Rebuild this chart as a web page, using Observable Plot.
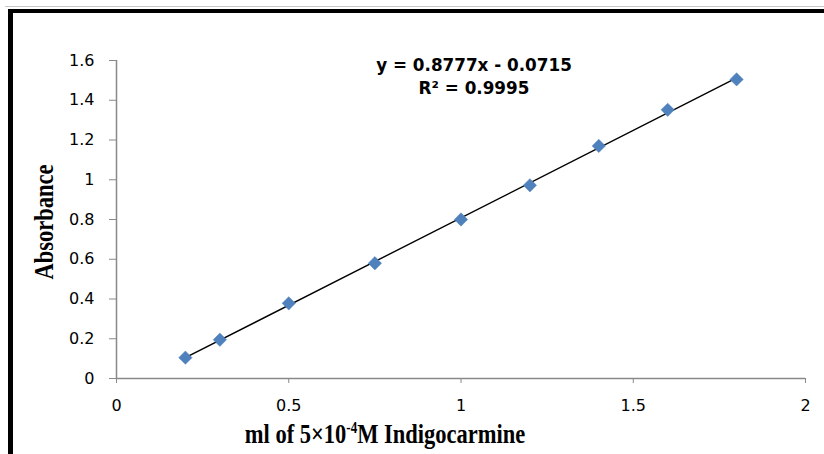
<!DOCTYPE html>
<html>
<head>
<meta charset="utf-8">
<script src="https://cdn.jsdelivr.net/npm/d3@7"></script>
<script src="https://cdn.jsdelivr.net/npm/@observablehq/plot@0.6"></script>
<style>
  html, body { margin: 0; padding: 0; background: #fff; overflow: hidden; }
  #wrap { position: relative; width: 824px; height: 454px; overflow: hidden; }
  #grayline { position: absolute; left: 5px; top: 6px; width: 830px; height: 1px; background: #c8c8c8; }
  #border { position: absolute; left: 8px; top: 9px; width: 900px; height: 900px;
            border-top: 4px solid #000; border-left: 5px solid #000; box-sizing: border-box; }
  #chart { position: absolute; left: 0; top: 0; }
</style>
</head>
<body>
<div id="wrap">
  <div id="grayline"></div>
  <div id="border"></div>
  <div id="chart"></div>
</div>
<script>
// Data
const volumes = [0.2, 0.3, 0.5, 0.75, 1.0, 1.2, 1.4, 1.6, 1.8];      // ml of 5×10⁻⁴M Indigocarmine
const absorbance = [0.105, 0.195, 0.378, 0.58, 0.80, 0.972, 1.17, 1.352, 1.505];
const xTicks = [0, 0.5, 1, 1.5, 2];
const yTicks = [0, 0.2, 0.4, 0.6, 0.8, 1, 1.2, 1.4, 1.6];
const equationLines = ["y = 0.8777x - 0.0715", "R² = 0.9995"];
const yTitle = "Absorbance";
const xTitleParts = ["ml of 5×10", "-4", "M Indigocarmine"];

const data = volumes.map((v, i) => ({x: v, y: absorbance[i]}));

const axisGray = "#898989";
const tickFont = "DejaVu Sans, sans-serif";

const plot = Plot.plot({
  width: 824,
  height: 454,
  marginLeft: 116,
  marginRight: 19,
  marginTop: 60,
  marginBottom: 76,
  style: {background: "transparent", fontFamily: tickFont, fontSize: "16px", color: "#000"},
  x: {domain: [0, 2], ticks: xTicks, label: null},
  y: {domain: [0, 1.6], ticks: yTicks, label: null},
  marks: [
    Plot.axisX({ticks: xTicks, tickSize: 5, tickPadding: 16, stroke: axisGray, fill: "#000",
                tickFormat: d => String(d), fontSize: 16, label: null}),
    Plot.axisY({ticks: yTicks, tickSize: 7, tickPadding: 15, stroke: axisGray, fill: "#000",
                tickFormat: d => String(d), fontSize: 16, label: null}),
    Plot.ruleY([0], {stroke: axisGray, strokeWidth: 1.5}),
    Plot.ruleX([0], {stroke: axisGray, strokeWidth: 1.5}),
    Plot.linearRegressionY(data, {x: "x", y: "y", stroke: "#000", strokeWidth: 1.4, ci: 0}),
    Plot.dot(data, {x: "x", y: "y", symbol: "diamond2", r: 6, fill: "#4F81BD", stroke: "#4F81BD", strokeWidth: 0.5}),
    Plot.text([equationLines[0]], {frameAnchor: "top", dx: 13, dy: 5, fontWeight: "bold",
               fontSize: 16.8, fontFamily: "DejaVu Sans, sans-serif", fill: "#000", lineAnchor: "middle"}),
    Plot.text([equationLines[1]], {frameAnchor: "top", dx: 13, dy: 28, fontWeight: "bold",
               fontSize: 16.8, fontFamily: "DejaVu Sans, sans-serif", fill: "#000", lineAnchor: "middle"})
  ]
});

document.getElementById("chart").appendChild(plot);

// Axis titles (condensed serif, as in the reference)
const svg = d3.select(plot);
svg.append("text")
  .attr("transform", "translate(53,222) rotate(-90) scale(1,1.25)")
  .attr("text-anchor", "middle")
  .attr("font-family", "Liberation Serif, Times New Roman, serif")
  .attr("font-weight", "bold")
  .attr("font-size", 22.5)
  .attr("fill", "#000")
  .text(yTitle);

const xt = svg.append("text")
  .attr("transform", "translate(385,443) scale(1,1.25)")
  .attr("text-anchor", "middle")
  .attr("font-family", "Liberation Serif, Times New Roman, serif")
  .attr("font-weight", "bold")
  .attr("font-size", 22.5)
  .attr("fill", "#000");
xt.append("tspan").text(xTitleParts[0]);
xt.append("tspan").attr("font-size", 13).attr("dy", -8).text(xTitleParts[1]);
xt.append("tspan").attr("dy", 8).text(xTitleParts[2]);
</script>
</body>
</html>
